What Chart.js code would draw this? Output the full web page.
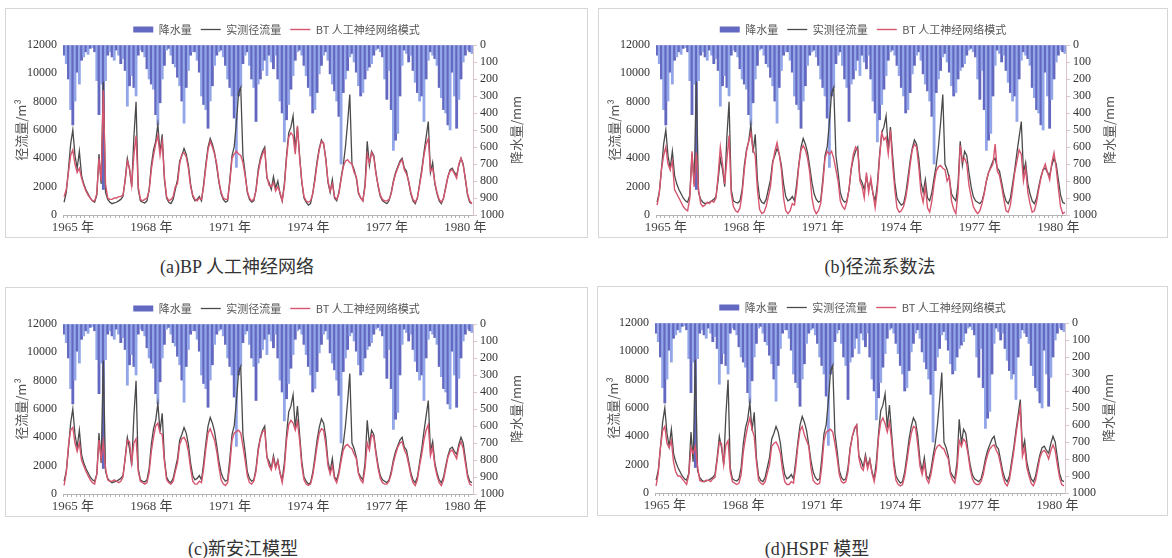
<!DOCTYPE html>
<html>
<head>
<meta charset="utf-8">
<script src="https://cdn.jsdelivr.net/npm/chart.js@4.4.1/dist/chart.umd.min.js"></script>
<style>
  body { margin: 0; width: 1172px; height: 558px; background: #fff; position: relative; overflow: hidden; }
  .panel { position: absolute; border: 1px solid #d6d6d6; box-sizing: border-box; }
  .panel canvas { position: absolute; left: 0; top: 0; }
  .cap { position: absolute; font-family: "Liberation Serif", "Noto Sans CJK SC", serif; font-size: 18px; color: #333;
         white-space: nowrap; transform: translate(-50%, -50%); }
</style>
</head>
<body>
<div class="panel" style="left:5px;top:8px;width:583px;height:230px"><canvas id="chartA" width="581" height="228"></canvas></div>
<div class="panel" style="left:598px;top:8px;width:570px;height:230px"><canvas id="chartB" width="568" height="228"></canvas></div>
<div class="panel" style="left:5px;top:287px;width:583px;height:230px"><canvas id="chartC" width="581" height="228"></canvas></div>
<div class="panel" style="left:597px;top:286px;width:571px;height:230px"><canvas id="chartD" width="569" height="228"></canvas></div>
<div class="cap" style="left:237px;top:265px">(a)BP 人工神经网络</div>
<div class="cap" style="left:880px;top:265px">(b)径流系数法</div>
<div class="cap" style="left:243px;top:547px">(c)新安江模型</div>
<div class="cap" style="left:817px;top:547px">(d)HSPF 模型</div>
<script>
// monthly series, Jan 1965 onwards (188 months)
const startYear = 1965;
const yearTicks = ['1965 年', '1968 年', '1971 年', '1974 年', '1977 年', '1980 年'];
const runoffTicks = [0, 2000, 4000, 6000, 8000, 10000, 12000];
const rainTicks = [0, 100, 200, 300, 400, 500, 600, 700, 800, 900, 1000];

// precipitation, mm
const rainfall = [
  60, 110, 200, 380, 470, 330, 160, 230, 90, 70, 40, 55,
  20, 15, 40, 210, 410, 230, 850, 210, 60, 40, 70, 90,
  30, 60, 110, 80, 150, 360, 240, 180, 250, 300, 60, 30,
  40, 70, 140, 200, 230, 260, 410, 470, 340, 200, 120, 30,
  20, 60, 110, 130, 190, 240, 330, 460, 250, 150, 60, 40,
  40, 90, 160, 300, 350, 380, 490, 330, 240, 120, 60, 40,
  30, 70, 120, 200, 250, 300, 430, 720, 300, 250, 110, 60,
  40, 120, 200, 250, 450, 230, 200, 150, 90, 180, 60, 100,
  140, 60, 200, 330, 400, 570, 440, 350, 260, 180, 90, 40,
  30, 60, 120, 180, 250, 300, 400, 380, 280, 170, 120, 60,
  40, 90, 170, 230, 270, 330, 420, 700, 280, 200, 150, 70,
  50, 100, 160, 240, 300, 280, 200, 150, 130, 110, 60, 30,
  20, 40, 70, 200, 320, 150, 380, 620, 560, 520, 300, 120,
  30, 50, 100, 60, 150, 220, 280, 330, 300, 450, 200, 90,
  40, 60, 80, 120, 250, 310, 380, 400, 470, 500, 160, 300,
  490, 320, 200, 100, 60, 30, 40, 50
];

// observed runoff, m3
const observed = [
  900, 1600, 3200, 5000, 6000, 4200, 3300, 4500, 2800, 2200, 1800, 1500,
  1200, 1000, 900, 1400, 4300, 2200, 9400, 1600, 1100, 900, 800, 850,
  900, 1000, 1100, 1300, 2500, 4000, 3200, 2000, 5500, 8000, 1800, 1000,
  900, 850, 1000, 1800, 3500, 4600, 5200, 6400, 4400, 5700, 2500, 1200,
  900, 800, 1100, 1800, 2500, 3800, 4200, 4700, 4300, 3500, 2200, 1300,
  1000, 1100, 1300, 1000, 2200, 3600, 4800, 5400, 5000, 4400, 3400, 2300,
  1500, 1100, 900, 1000, 2500, 4200, 4800, 6500, 8600, 9000, 4200, 3000,
  1600, 1100, 900, 1000, 1800, 3200, 4000, 4500, 4800, 2600, 2300, 1800,
  2700, 1900, 2400, 1500, 1000, 2200, 4200, 5800, 6200, 7000, 4600, 6200,
  4200, 2300, 1200, 900, 700, 800, 1500, 2600, 3800, 4700, 5300, 5000,
  4000, 2300, 1600, 2500, 1200, 1000, 1600, 2600, 3500, 4800, 6500, 8500,
  3600, 3200, 2600, 1500, 1200, 1000, 2200, 5200, 3500, 4500, 4200, 3000,
  2000, 1300, 1000, 900, 800, 1000, 1600, 2400, 3000, 3400, 3800, 4000,
  3300, 3100, 2300, 1500, 1000, 800, 1200, 2200, 3200, 4400, 5500, 6600,
  3000, 3700, 2200, 1500, 1000, 800, 1200, 2000, 2700, 3200, 3300, 3000,
  2800, 3500, 4000, 3600, 2500, 1400, 900, 800
];

// (a) BP neural network
const simBP = [
  1300, 1800, 3000, 4200, 4600, 3600, 3000, 3300, 2600, 2100, 1700, 1400,
  1200, 1000, 1000, 1500, 4000, 2400, 8800, 2200, 1200, 1100, 1100, 1200,
  1200, 1300, 1300, 1400, 2400, 3800, 3300, 2100, 4200, 5600, 2000, 1100,
  1000, 1100, 1200, 1700, 3200, 4200, 5000, 5600, 4200, 5200, 2700, 1300,
  1000, 1100, 1300, 2000, 2200, 3600, 4300, 4400, 4100, 3300, 2000, 1400,
  1100, 1000, 1200, 1100, 2000, 3400, 4600, 5200, 4800, 4300, 3600, 2400,
  1600, 1200, 1100, 1100, 2300, 4000, 4300, 4500, 4300, 4200, 3700, 2800,
  1700, 1200, 1000, 1100, 1700, 3000, 3800, 4300, 4600, 2700, 2100, 2000,
  2300, 1700, 2000, 1600, 1000, 2000, 4000, 5500, 5800, 5600, 4300, 6300,
  4000, 2400, 1300, 1000, 900, 1000, 1500, 2400, 3600, 4600, 5200, 5100,
  3900, 2400, 1700, 2200, 1300, 1100, 1500, 2500, 3400, 3800, 3900, 3700,
  3600, 3000, 2700, 1600, 1200, 1000, 2000, 4300, 3700, 4400, 4100, 2900,
  2100, 1400, 1100, 1000, 1000, 1100, 1500, 2300, 2900, 3300, 3700, 3900,
  3200, 2900, 2400, 1600, 1100, 900, 1200, 2100, 3000, 4200, 5000, 5400,
  3100, 3300, 2300, 1600, 1100, 900, 1200, 1900, 2700, 3100, 3200, 2900,
  2600, 3600, 4000, 3500, 2600, 1500, 1000, 800
];

// (b) runoff coefficient method
const simCoef = [
  700, 1500, 3200, 4200, 4800, 3600, 3200, 3800, 1800, 1500, 1200, 900,
  600, 400, 300, 1200, 4500, 2000, 4400, 1800, 800, 600, 700, 900,
  800, 1000, 900, 1200, 2800, 4800, 3600, 2200, 3900, 5600, 1500, 600,
  300, 200, 500, 1500, 3200, 4500, 5200, 5800, 4600, 4200, 1800, 400,
  100, 200, 600, 1300, 2000, 3600, 4500, 5100, 4300, 3200, 1200, 300,
  100, 300, 800, 700, 1800, 3500, 4600, 4900, 4600, 4000, 3000, 1200,
  400, 100, 300, 800, 2200, 4000, 4500, 4300, 4500, 4000, 3200, 2400,
  1000, 600, 400, 900, 1800, 3300, 4300, 4800, 4600, 2400, 2000, 1200,
  3000, 1600, 2600, 1500, 500, 1800, 4000, 5800, 5300, 5500, 4300, 6000,
  3600, 1800, 500, 200, 300, 600, 1200, 2200, 3500, 4600, 5000, 4800,
  3400, 1600, 900, 2000, 500, 200, 1000, 2200, 3100, 3400, 3500, 3300,
  3200, 2400, 2700, 1000, 400, 100, 1600, 4900, 3800, 4000, 3600, 2100,
  1300, 600, 300, 100, 300, 800, 1500, 2400, 3000, 3300, 3600, 5000,
  3100, 2800, 2000, 1100, 300, 200, 700, 1800, 3000, 3800, 4600, 4300,
  2400, 3300, 1600, 800, 200, 300, 900, 1800, 2600, 3200, 3600, 3000,
  2500, 3700, 4400, 3300, 1900, 600, 100, 200
];

// (c) Xin'anjiang model
const simXaj = [
  600, 1500, 3400, 4500, 4700, 3600, 3000, 3600, 2400, 2000, 1600, 1300,
  1000, 800, 700, 1400, 3800, 2500, 3700, 1800, 1000, 900, 900, 1000,
  900, 800, 900, 1200, 2500, 3800, 3700, 2200, 3600, 3900, 1600, 900,
  800, 700, 800, 1500, 3000, 4000, 4800, 5000, 4300, 4200, 2300, 1000,
  800, 700, 900, 1600, 2200, 3500, 3900, 4000, 3700, 3000, 1800, 900,
  700, 700, 900, 800, 1800, 3200, 4300, 4600, 4200, 3800, 3000, 1900,
  1000, 700, 600, 800, 2000, 3800, 4300, 4400, 4500, 4300, 3400, 2400,
  1300, 800, 700, 900, 1600, 3000, 3900, 4400, 4500, 2600, 2000, 1700,
  2500, 1800, 2300, 1500, 800, 1800, 3800, 4900, 5200, 5000, 4500, 5100,
  3800, 2000, 1000, 700, 600, 700, 1300, 2300, 3400, 4300, 4600, 4500,
  3500, 2000, 1400, 2000, 1100, 800, 1400, 2300, 3100, 3400, 3500, 3300,
  3200, 2800, 2500, 1400, 1000, 800, 1800, 3600, 3100, 4200, 4000, 2800,
  1800, 1100, 800, 700, 700, 900, 1400, 2200, 2800, 3300, 3600, 3700,
  3100, 2800, 2100, 1300, 800, 600, 1000, 2000, 2800, 3800, 4500, 4900,
  2700, 3300, 2000, 1300, 800, 600, 1000, 1800, 2600, 3000, 3100, 2800,
  2500, 3300, 3700, 3200, 2200, 1200, 700, 600
];

// (d) HSPF model
const simHspf = [
  500, 1400, 3200, 4400, 4700, 3500, 3200, 3700, 2200, 1500, 1200, 1200,
  1000, 800, 600, 1300, 3200, 2800, 3300, 1900, 900, 800, 800, 900,
  900, 800, 1000, 1100, 2300, 3600, 3500, 2000, 3400, 3700, 1500, 800,
  700, 600, 700, 1300, 2900, 3900, 4700, 5300, 4500, 4000, 2200, 900,
  700, 600, 800, 1400, 2000, 3300, 3500, 3600, 3300, 2800, 1600, 800,
  600, 600, 800, 700, 1800, 3300, 4400, 4700, 4100, 3700, 3300, 1800,
  900, 700, 600, 700, 1900, 3700, 4300, 4400, 4500, 4300, 3500, 2500,
  1300, 800, 700, 800, 1500, 3100, 4000, 4600, 4800, 2500, 1800, 1600,
  2500, 1700, 2300, 1400, 800, 1700, 3900, 5000, 5300, 4900, 4300, 5000,
  3700, 1900, 900, 600, 500, 600, 1200, 2200, 3300, 4200, 4700, 4600,
  3400, 1900, 1300, 2100, 1000, 700, 1300, 2200, 3000, 3300, 3400, 3200,
  3100, 2700, 2400, 1300, 900, 700, 1700, 3700, 3300, 3800, 3600, 2800,
  1700, 1000, 700, 600, 600, 800, 1300, 2100, 2700, 3100, 3300, 3400,
  3000, 2700, 2000, 1200, 700, 500, 900, 1900, 2900, 4100, 5200, 6000,
  2600, 3200, 1800, 1200, 700, 500, 900, 1700, 2500, 2900, 3000, 2800,
  2400, 3000, 3400, 3000, 2000, 1100, 600, 500
];

const months = rainfall.map((_, i) => (startYear + Math.floor(i / 12)) + '-' + String(i % 12 + 1).padStart(2, '0'));

const CJK = '"Noto Sans CJK SC", sans-serif';
const SERIF = '"Liberation Serif", "Noto Sans CJK SC", serif';

// right-hand axis title reads bottom to top like the left one
const rightTitle = {
  id: 'rightTitle',
  afterDraw(chart) {
    const { ctx, chartArea } = chart;
    ctx.save();
    ctx.translate(chartArea.right + 43, (chartArea.top + chartArea.bottom) / 2);
    ctx.rotate(-Math.PI / 2);
    ctx.font = '13px ' + CJK;
    ctx.fillStyle = '#555';
    ctx.textAlign = 'center';
    ctx.textBaseline = 'middle';
    ctx.fillText('降水量/mm', 0, 0);
    ctx.restore();
  }
};

function runoffChart(id, model) {
  const canvas = document.getElementById(id);
  const plotRight = 467;
  return new Chart(canvas.getContext('2d'), {
    data: {
      labels: months,
      datasets: [{
        type: 'bar',
        label: '降水量',
        data: rainfall,
        yAxisID: 'rain',
        backgroundColor: c => (c.index % 2 === 0 ? '#6368c0' : '#93a6e8'),
        pointStyle: 'rect',
        barPercentage: 1,
        categoryPercentage: 1,
        order: 3
      }, {
        type: 'line',
        label: '实测径流量',
        data: observed,
        yAxisID: 'runoff',
        borderColor: '#4a4a4a',
        backgroundColor: '#4a4a4a',
        borderWidth: 1.3,
        pointRadius: 0,
        pointStyle: 'line',
        order: 2
      }, {
        type: 'line',
        label: 'BT 人工神经网络模式',
        data: model,
        yAxisID: 'runoff',
        borderColor: '#d6556f',
        backgroundColor: '#d6556f',
        borderWidth: 1.4,
        pointRadius: 0,
        pointStyle: 'line',
        order: 1
      }]
    },
    options: {
      responsive: false,
      animation: false,
      devicePixelRatio: 1,
      layout: { padding: { left: 4, right: 44, top: 6, bottom: 2 } },
      plugins: {
        legend: {
          position: 'top',
          labels: {
            usePointStyle: true,
            pointStyleWidth: 20,
            boxHeight: 6,
            padding: 9,
            color: '#555',
            font: { family: CJK, size: 11 },
            sort: (a, b) => a.datasetIndex - b.datasetIndex
          }
        },
        tooltip: { enabled: false }
      },
      scales: {
        x: {
          ticks: {
            autoSkip: false,
            maxRotation: 0,
            minRotation: 0,
            padding: 2,
            color: '#444',
            font: { family: SERIF, size: 13 },
            callback: (v, i) => (i % 36 === 4 ? yearTicks[(i - 4) / 36] : '')
          },
          grid: {
            drawOnChartArea: false,
            tickLength: 3,
            color: c => (c.index % 2 === 0 ? '#b4b4b4' : 'rgba(0,0,0,0)')
          },
          border: { color: '#b4b4b4', dash: [3, 2] },
          afterFit: s => { s.height = 20; }
        },
        runoff: {
          position: 'left',
          min: 0,
          max: 12000,
          afterBuildTicks: s => { s.ticks = runoffTicks.map(v => ({ value: v })); },
          ticks: { padding: 6, color: '#333', font: { family: SERIF, size: 12 }, callback: v => String(v) },
          grid: { display: false, drawTicks: false },
          border: { display: false },
          title: {
            display: true,
            text: '径流量/m³',
            color: '#555',
            font: { family: CJK, size: 13 },
            padding: { top: 3, bottom: 0 }
          },
          afterFit: s => { s.width = 53; }
        },
        rain: {
          position: 'right',
          reverse: true,
          min: 0,
          max: 1000,
          afterBuildTicks: s => { s.ticks = rainTicks.map(v => ({ value: v })); },
          ticks: { autoSkip: false, padding: 3, color: '#333', font: { family: SERIF, size: 12 }, callback: v => String(v) },
          grid: { drawOnChartArea: false, tickLength: 4, color: '#d9c4ca' },
          border: { color: '#d9c4ca' },
          afterFit: s => { s.width = canvas.width - plotRight - 44; }
        }
      }
    },
    plugins: [rightTitle]
  });
}

const chartA = runoffChart('chartA', simBP);
const chartB = runoffChart('chartB', simCoef);
const chartC = runoffChart('chartC', simXaj);
const chartD = runoffChart('chartD', simHspf);
</script>
</body>
</html>
